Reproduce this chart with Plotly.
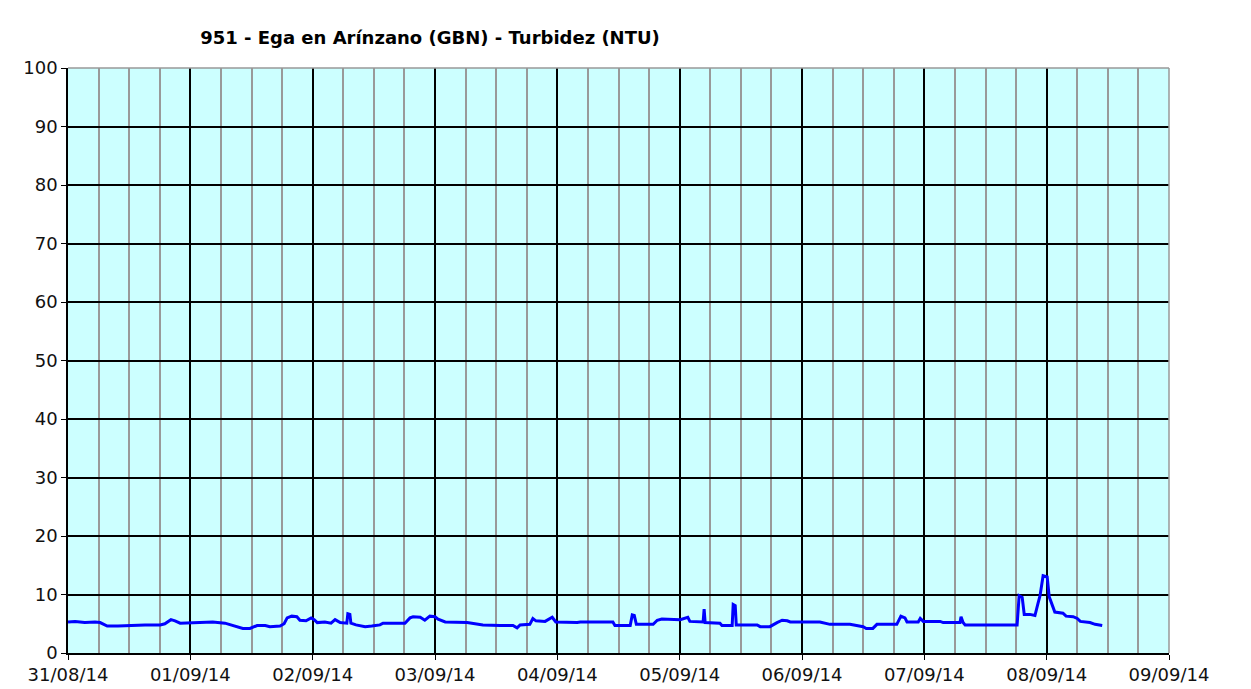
import plotly.graph_objects as go
import pandas as pd

# Hours elapsed since 31/08/14 00:00
hours = [0.0, 1.4, 3.3, 5.3, 6.3, 7.7, 9.8, 12.2, 15.1, 18.1, 19.0, 20.2, 21.0, 22.0,
         24.9, 26.9, 28.4, 30.8, 32.4, 33.7, 34.3, 35.7, 37.1, 38.7, 39.6, 41.6, 42.4,
         43.0, 43.9, 44.9, 45.5, 46.7, 47.7, 48.3, 48.9, 50.4, 51.6, 52.4, 53.4, 54.7,
         54.9, 55.3, 55.5, 56.5, 58.3, 59.6, 61.2, 61.8, 64.2, 66.1, 67.1, 67.7, 69.1,
         70.0, 71.0, 72.0, 72.6, 74.0, 78.3, 81.4, 84.8, 87.3, 88.1, 88.7, 90.6, 91.2,
         91.8, 93.6, 95.0, 95.7, 99.9, 100.5, 106.9, 107.3, 110.3, 110.7, 111.1, 111.5,
         114.8, 115.6, 116.5, 119.1, 120.1, 121.6, 122.0, 124.6, 124.8, 125.0, 127.9,
         128.3, 130.3, 130.5, 130.9, 131.1, 135.2, 135.8, 137.7, 139.1, 140.1, 141.1,
         141.7, 147.5, 149.5, 153.4, 154.4, 156.0, 156.6, 157.9, 158.7, 162.6, 163.4,
         164.2, 164.6, 166.8, 167.2, 167.8, 171.1, 171.7, 175.0, 175.2, 175.6, 176.0,
         186.2, 186.6, 187.2, 187.6, 188.7, 189.7, 190.3, 190.7, 191.3, 192.1, 192.5,
         193.1, 193.6, 195.2, 195.8, 197.2, 198.0, 198.6, 200.5, 201.5, 202.9]

turbidez = [5.3, 5.4, 5.2, 5.3, 5.2, 4.6, 4.6, 4.7, 4.8, 4.8, 5.0, 5.7, 5.5, 5.1,
            5.2, 5.2, 5.3, 5.1, 4.7, 4.4, 4.2, 4.2, 4.7, 4.7, 4.5, 4.6, 5.0,
            6.0, 6.3, 6.2, 5.6, 5.5, 6.0, 5.7, 5.2, 5.3, 5.1, 5.7, 5.2, 5.1,
            6.7, 6.6, 5.1, 4.8, 4.5, 4.6, 4.8, 5.1, 5.1, 5.1, 6.0, 6.2, 6.1,
            5.6, 6.3, 6.2, 5.8, 5.3, 5.2, 4.8, 4.7, 4.7, 4.3, 4.8, 4.9, 5.9,
            5.5, 5.4, 6.1, 5.3, 5.2, 5.3, 5.3, 4.7, 4.7, 6.5, 6.4, 4.9,
            4.9, 5.6, 5.8, 5.8, 5.7, 6.1, 5.4, 5.3, 7.5, 5.2, 5.1,
            4.7, 4.7, 8.3, 8.1, 4.8, 4.8, 4.5, 4.5, 5.2, 5.6, 5.5,
            5.3, 5.3, 4.9, 4.9, 4.7, 4.5, 4.2, 4.2, 4.9, 4.9, 6.3,
            6.0, 5.3, 5.3, 5.9, 5.4, 5.4, 5.2, 5.2, 6.2, 5.2, 4.8,
            4.8, 9.8, 9.5, 6.6, 6.6, 6.4, 8.5, 9.8, 13.2, 13.0, 9.6,
            8.2, 7.0, 6.8, 6.3, 6.2, 5.9, 5.4, 5.2, 4.9, 4.7]

title_text = "951 - Ega en Arínzano (GBN) - Turbidez (NTU)"
y_ticks = [0, 10, 20, 30, 40, 50, 60, 70, 80, 90, 100]

start = pd.Timestamp("2014-08-31 00:00")
times = [start + pd.Timedelta(hours=h) for h in hours]

fig = go.Figure()
fig.add_trace(go.Scatter(x=times, y=turbidez, mode="lines",
                         line=dict(color="#0000FF", width=3), showlegend=False))

font_family = "DejaVu Sans"
fig.update_layout(
    width=1251, height=689,
    margin=dict(l=60, r=90, t=60, b=41),
    paper_bgcolor="#FFFFFF",
    plot_bgcolor="#CCFFFF",
    title=dict(text="<b>" + title_text + "</b>", x=(422 - 60) / 1101, xref="paper",
               xanchor="center", y=1 - 30 / 689, yanchor="middle",
               font=dict(family=font_family, size=18, color="#000000")),
    font=dict(family=font_family, size=18, color="#111111"),
)
fig.update_xaxes(
    range=["2014-08-31", "2014-09-09"],
    type="date",
    dtick=86400000, tick0="2014-08-31",
    tickformat="%d/%m/%y",
    showgrid=True, gridcolor="#000000", gridwidth=1.5,
    minor=dict(dtick=6 * 3600000, showgrid=True, gridcolor="#999999", gridwidth=2),
    ticks="outside", ticklen=5, tickcolor="#000000",
    showline=True, linecolor="#000000", linewidth=1.5,
    zeroline=False,
)
fig.update_yaxes(
    range=[0, 100], tickvals=y_ticks,
    showgrid=True, gridcolor="#000000", gridwidth=1.5,
    ticks="outside", ticklen=5, tickcolor="#000000",
    showline=True, linecolor="#000000", linewidth=1.5,
    zeroline=False,
)
fig.add_shape(type="line", xref="paper", yref="paper", x0=0, x1=1, y0=1, y1=1,
              line=dict(color="#999999", width=1.5), layer="above")
fig.add_shape(type="line", xref="paper", yref="paper", x0=1, x1=1, y0=0, y1=1,
              line=dict(color="#999999", width=1.5), layer="above")

fig.write_html("out.html")
